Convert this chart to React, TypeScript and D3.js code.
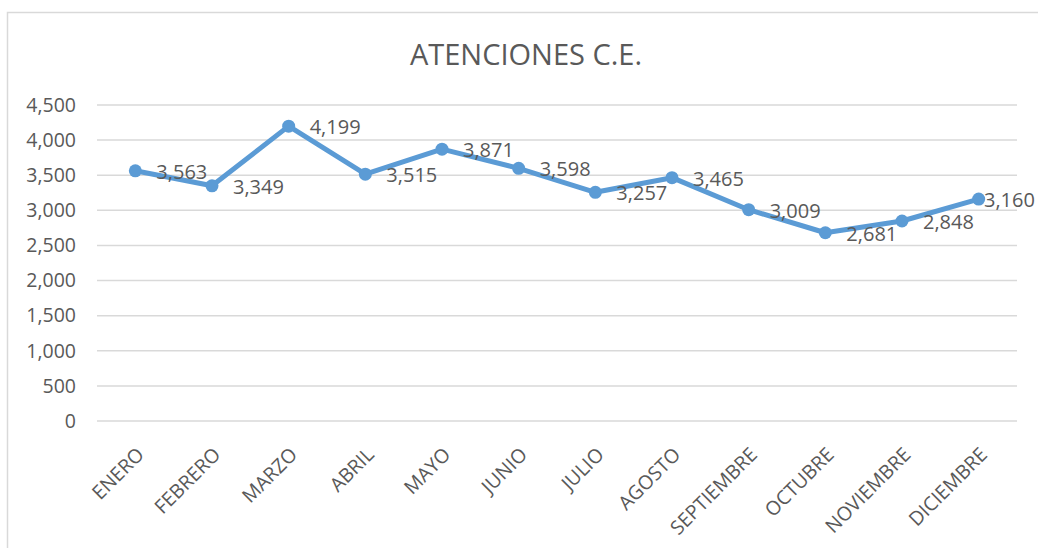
import React from 'react'
import * as d3 from 'd3'

const meses = ['ENERO', 'FEBRERO', 'MARZO', 'ABRIL', 'MAYO', 'JUNIO', 'JULIO', 'AGOSTO', 'SEPTIEMBRE', 'OCTUBRE', 'NOVIEMBRE', 'DICIEMBRE']
const atenciones = [3563, 3349, 4199, 3515, 3871, 3598, 3257, 3465, 3009, 2681, 2848, 3160]
const yTicks = [0, 500, 1000, 1500, 2000, 2500, 3000, 3500, 4000, 4500]

const W = 1038
const H = 548
const font = "'Open Sans', sans-serif"
const gray = '#595959'
const blue = '#5B9BD5'

export default function App() {
  const x = d3.scaleBand().domain(meses).range([97, 1017]).padding(0)
  const y = d3.scaleLinear().domain([0, 4500]).range([421, 105])
  const fmt = d3.format(',')
  const cxOf = (m: string) => (x(m) as number) + x.bandwidth() / 2

  // line through the center of each band
  const linea = d3.line<number>()
    .x((d, i) => cxOf(meses[i]))
    .y(d => y(d))

  return (
    <svg width={W} height={H} style={{ position: 'fixed', left: 0, top: 0 }}>
      <rect x={0} y={0} width={W} height={H} fill="#fff" />
      <rect x={7.5} y={12.5} width={W + 10} height={H + 10} fill="none" stroke="#d9d9d9" strokeWidth={1.5} />

      <text x={526} y={65} textAnchor="middle" fontFamily={font} fontSize={29} fill={gray}>ATENCIONES C.E.</text>

      {yTicks.map(t => (
        <g key={t}>
          <line x1={97} x2={1017} y1={y(t)} y2={y(t)} stroke="#d9d9d9" strokeWidth={1.5} />
          <text x={76} y={y(t)} dy="0.35em" textAnchor="end" fontFamily={font} fontSize={19.5} fill={gray}>{fmt(t)}</text>
        </g>
      ))}

      {meses.map(m => (
        <text key={m} transform={`translate(${cxOf(m) + 5},${451}) rotate(-45)`} textAnchor="end" dy="0.35em"
          fontFamily={font} fontSize={19.5} fill={gray}>{m}</text>
      ))}

      <path d={linea(atenciones) || ''} fill="none" stroke={blue} strokeWidth={5} strokeLinejoin="round" />

      {atenciones.map((v, i) => {
        const cx = cxOf(meses[i])
        return (
          <g key={i}>
            <circle cx={cx} cy={y(v)} r={6.5} fill={blue} />
            <text x={Math.min(cx + 21, 984)} y={y(v) + 1} dy="0.35em" fontFamily={font} fontSize={20} fill={gray}>{fmt(v)}</text>
          </g>
        )
      })}
    </svg>
  )
}
